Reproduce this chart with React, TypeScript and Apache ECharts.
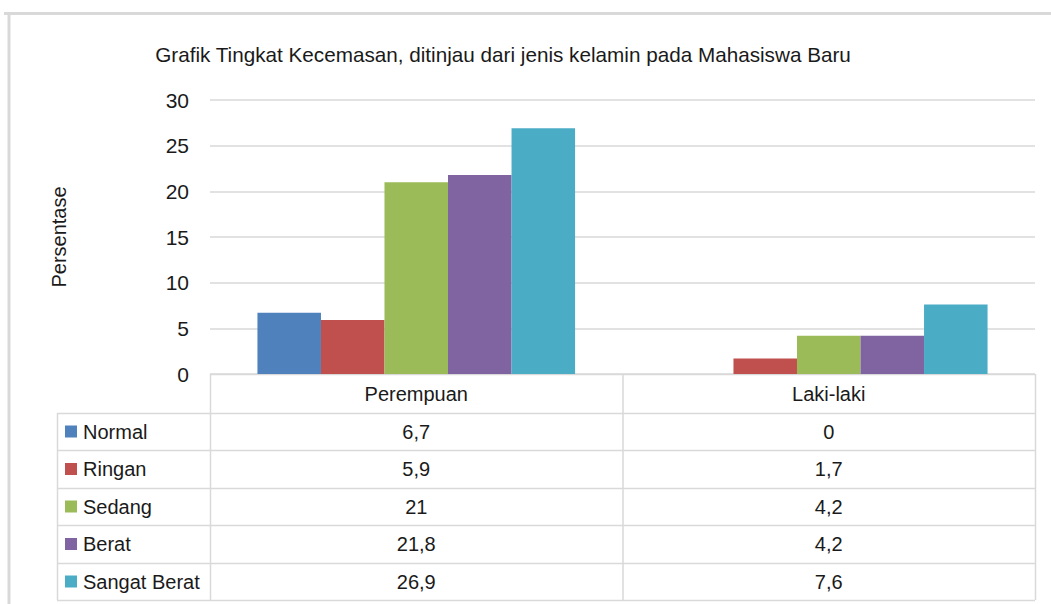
import React, { useEffect, useRef } from "react";
import * as echarts from "echarts";

const categories = ["Perempuan", "Laki-laki"];
const seriesNames = ["Normal", "Ringan", "Sedang", "Berat", "Sangat Berat"];
const normal = [6.7, 0];
const ringan = [5.9, 1.7];
const sedang = [21, 4.2];
const berat = [21.8, 4.2];
const sangatBerat = [26.9, 7.6];
const seriesValues = [normal, ringan, sedang, berat, sangatBerat];
const colors = ["#4F81BD", "#C0504D", "#9BBB59", "#8064A2", "#4BACC6"];
const titleText = "Grafik Tingkat Kecemasan, ditinjau dari jenis kelamin pada Mahasiswa Baru";
const yAxisName = "Persentase";
const yMin = 0;
const yMax = 30;
const yInterval = 5;

const FONT = "'Liberation Sans', Arial, sans-serif";
const W = 1051;
const H = 604;
const GL = 210;
const GR = 1035;
const GT = 100;
const GB = 374;
const TL = 57;
const rowY = [374, 413, 450, 488, 525, 563, 600];
const LINE = "#D9D9D9";
const TXT = "#1a1a1a";

const fmt = (v: number) => String(v).replace(".", ",");

export default function App() {
  const ref = useRef<HTMLDivElement>(null);
  useEffect(() => {
    if (!ref.current) return;
    const chart = echarts.init(ref.current, null, { renderer: "svg" });
    const colW = (GR - GL) / categories.length;
    const graphic: any[] = [];
    // outer frame
    graphic.push({ type: "line", shape: { x1: 4, y1: 13.5, x2: W, y2: 13.5 }, style: { stroke: "#D9D9D9", lineWidth: 3 } });
    graphic.push({ type: "line", shape: { x1: 9, y1: 13, x2: 9, y2: H }, style: { stroke: "#D9D9D9", lineWidth: 3 } });
    // table lines
    rowY.forEach((y, i) => {
      graphic.push({ type: "line", shape: { x1: i === 0 ? GL : TL, y1: y + 0.5, x2: GR, y2: y + 0.5 }, style: { stroke: LINE, lineWidth: 1.5 } });
    });
    graphic.push({ type: "line", shape: { x1: TL + 0.5, y1: rowY[1], x2: TL + 0.5, y2: rowY[6] }, style: { stroke: LINE, lineWidth: 1.5 } });
    for (let c = 0; c <= categories.length; c++) {
      const x = GL + c * colW + 0.5;
      graphic.push({ type: "line", shape: { x1: x, y1: rowY[0], x2: x, y2: rowY[6] }, style: { stroke: LINE, lineWidth: 1.5 } });
    }
    // legend column + values
    seriesNames.forEach((name, i) => {
      const cy = (rowY[i + 1] + rowY[i + 2]) / 2;
      graphic.push({ type: "rect", shape: { x: 65, y: cy - 6, width: 12, height: 12 }, style: { fill: colors[i] } });
      graphic.push({ type: "text", x: 83, y: cy, style: { text: name, font: `20px ${FONT}`, fill: TXT, verticalAlign: "middle", align: "left" } });
      seriesValues[i].forEach((v, c) => {
        graphic.push({ type: "text", x: GL + (c + 0.5) * colW, y: cy, style: { text: fmt(v), font: `20px ${FONT}`, fill: TXT, verticalAlign: "middle", align: "center" } });
      });
    });
    chart.setOption({
      animation: false,
      title: {
        text: titleText,
        left: 498,
        top: 39,
        textAlign: "center",
        textStyle: { fontFamily: FONT, fontSize: 20.7, fontWeight: "normal", color: TXT },
      },
      grid: { left: GL, right: W - GR, top: GT, bottom: H - GB },
      xAxis: {
        type: "category",
        data: categories,
        axisLine: { show: false },
        axisTick: { show: false },
        axisLabel: { fontFamily: FONT, fontSize: 20, color: TXT, margin: 10 },
      },
      yAxis: {
        type: "value",
        min: yMin,
        max: yMax,
        interval: yInterval,
        name: yAxisName,
        nameLocation: "middle",
        nameGap: 141,
        nameTextStyle: { fontFamily: FONT, fontSize: 20, color: TXT },
        axisLabel: { fontFamily: FONT, fontSize: 21, color: TXT, margin: 21 },
        splitLine: { lineStyle: { color: LINE, width: 1.5 } },
        axisLine: { show: false },
        axisTick: { show: false },
      },
      series: seriesNames.map((name, i) => ({
        name,
        type: "bar",
        data: seriesValues[i],
        barGap: "0%",
        barCategoryGap: "23%",
        itemStyle: { color: colors[i] },
      })),
      graphic,
    });
    return () => chart.dispose();
  }, []);
  return <div ref={ref} style={{ position: "fixed", left: 0, top: 0, width: W, height: H, background: "#fff" }} />;
}
